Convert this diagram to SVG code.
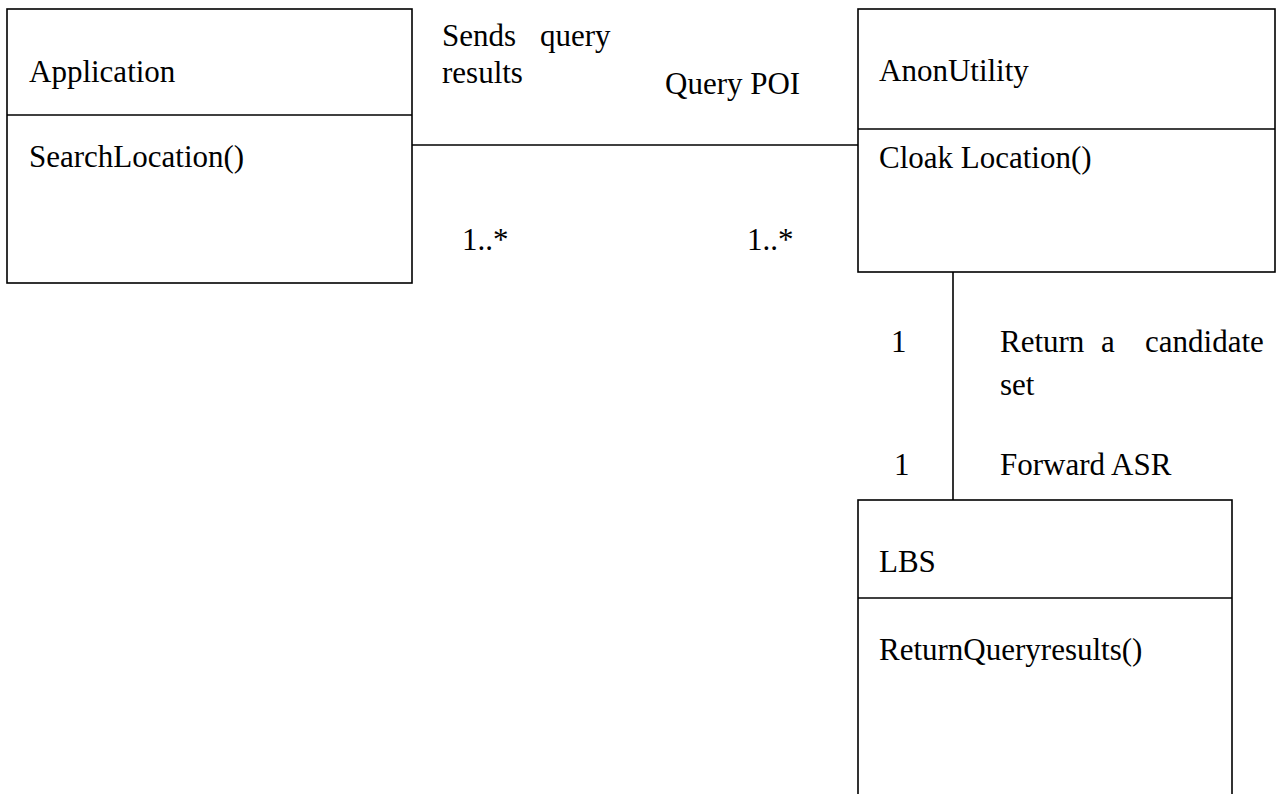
<svg xmlns="http://www.w3.org/2000/svg" width="1279" height="794" viewBox="0 0 1279 794">
<style>
.box{fill:#fff;stroke:#000;stroke-width:1.6}
.ln{stroke:#000;stroke-width:1.6;fill:none}
text{font-family:'Liberation Serif',serif;font-size:31px;fill:#000}
</style>
<rect width="1279" height="794" fill="#fff"/>
<g id="connectors">
<line class="ln" x1="412" y1="145" x2="858" y2="145"/>
<line class="ln" x1="953" y1="272" x2="953" y2="500"/>
<text x="442" y="46">Sends</text>
<text x="540" y="46">query</text>
<text x="442" y="83">results</text>
<text x="665" y="94">Query POI</text>
<text x="462" y="250">1..*</text>
<text x="747" y="250">1..*</text>
<text x="891" y="352">1</text>
<text x="1000" y="352">Return</text>
<text x="1101" y="352">a</text>
<text x="1145" y="352">candidate</text>
<text x="1000" y="395">set</text>
<text x="894" y="475">1</text>
<text x="1000" y="475">Forward ASR</text>
</g>
<g id="application">
<rect class="box" x="7" y="9" width="405" height="274"/>
<line class="ln" x1="7" y1="115" x2="412" y2="115"/>
<text x="29" y="82">Application</text>
<text x="29" y="167">SearchLocation()</text>
</g>
<g id="anonutility">
<rect class="box" x="858" y="9" width="417" height="263"/>
<line class="ln" x1="858" y1="129" x2="1275" y2="129"/>
<text x="879" y="81">AnonUtility</text>
<text x="879" y="168">Cloak Location()</text>
</g>
<g id="lbs">
<rect class="box" x="858" y="500" width="374" height="320"/>
<line class="ln" x1="858" y1="598" x2="1232" y2="598"/>
<text x="879" y="572">LBS</text>
<text x="879" y="660">ReturnQueryresults()</text>
</g>
</svg>
